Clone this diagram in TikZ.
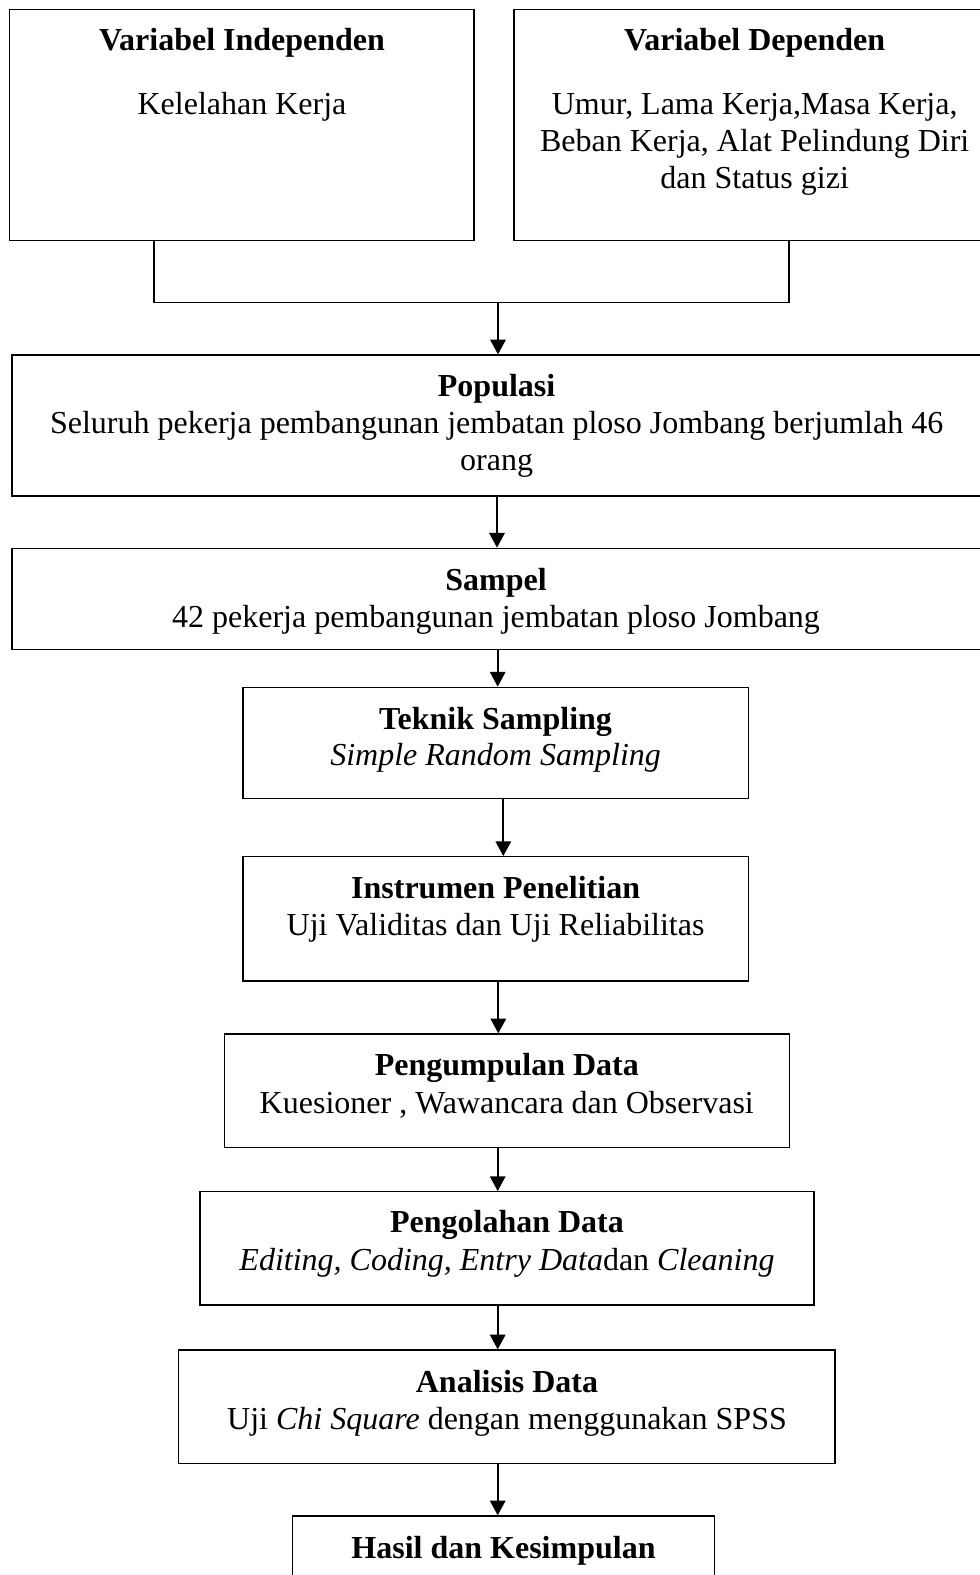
\documentclass[tikz,border=0pt]{standalone}
\usepackage{fontspec}
\setmainfont{Liberation Serif}
\usetikzlibrary{arrows.meta,fit}
\begin{document}
\begin{tikzpicture}[x=0.75pt,y=-0.75pt,
  box/.style={draw, line width=1pt, inner sep=0pt, rectangle},
  arr/.style={draw, line width=1.5pt, -{Triangle[width=11.5pt,length=11pt]}},
  ln/.style={draw, line width=1pt},
  ttl/.style={anchor=base, inner sep=0pt, font=\bfseries\fontsize{24}{28}\selectfont},
  txt/.style={anchor=base, inner sep=0pt, font=\fontsize{24}{28}\selectfont}]
\useasboundingbox (0,0) rectangle (980,1575);

% boxes
\node[box, fit={(9.4,9.3) (474,240.7)}] (indep) {};
\node[box, fit={(514,9.3) (995,240.7)}] (dep) {};
\node[box, fit={(12,355) (982,496)}] (pop) {};
\node[box, fit={(12,548.3) (982,649.3)}] (samp) {};
\node[box, fit={(243,687.3) (748.3,798.3)}] (tek) {};
\node[box, fit={(243,856.7) (748.3,981)}] (ins) {};
\node[box, fit={(224.3,1034) (789.3,1147.3)}] (peng) {};
\node[box, fit={(200,1191.7) (814,1305)}] (olah) {};
\node[box, fit={(178.3,1350) (835,1463.3)}] (anal) {};
\node[box, fit={(292.7,1516) (714.3,1620)}] (hasil) {};

% texts
\node[ttl] (t1a) at (242,50) {Variabel Independen};
\node[txt] (t1b) at (242,114) {Kelelahan Kerja};
\node[ttl] (t2a) at (754.7,50) {Variabel Dependen};
\node[txt] (t2b) at (754.7,114.5) {Umur, Lama Kerja,Masa Kerja,};
\node[txt] (t2c) at (754.7,151.7) {Beban Kerja, Alat Pelindung Diri};
\node[txt] (t2d) at (754.7,188.9) {dan Status gizi};
\node[ttl] (t3a) at (496.6,396.7) {Populasi};
\node[txt] (t3b) at (496.6,433.7) {Seluruh pekerja pembangunan jembatan ploso Jombang berjumlah 46};
\node[txt] (t3c) at (496.6,470.7) {orang};
\node[ttl] (t4a) at (496,590) {Sampel};
\node[txt] (t4b) at (496,627) {42 pekerja pembangunan jembatan ploso Jombang};
\node[ttl] (t5a) at (495.6,729) {Teknik Sampling};
\node[txt] (t5b) at (495.6,765) {\itshape Simple Random Sampling};
\node[ttl] (t6a) at (495.6,898) {Instrumen Penelitian};
\node[txt] (t6b) at (495.6,935) {Uji Validitas dan Uji Reliabilitas};
\node[ttl] (t7a) at (506.8,1075.5) {Pengumpulan Data};
\node[txt] (t7b) at (506.8,1113) {Kuesioner , Wawancara dan Observasi};
\node[ttl] (t8a) at (507,1232.7) {Pengolahan Data};
\node[txt] (t8b) at (507,1270.5) {\textit{Editing, Coding, Entry Data}dan \textit{Cleaning}};
\node[ttl] (t9a) at (507,1392.7) {Analisis Data};
\node[txt] (t9b) at (507,1429.5) {Uji \textit{Chi Square} dengan menggunakan SPSS};
\node[ttl] (t10a) at (503.5,1558.3) {Hasil dan Kesimpulan};

% connectors
\coordinate (jl) at (154,302.7);
\coordinate (jr) at (789,302.7);
\coordinate (jc) at (498,302.7);
\draw[ln] (indep.south -| jl) -- (jl) -- (jr) -- (dep.south -| jr);
\draw[arr] (jc) -- (pop.north -| jc);

\coordinate (a1) at (497,0);
\coordinate (a2) at (497.7,0);
\coordinate (a3) at (503.3,0);
\coordinate (a4) at (498.3,0);
\draw[arr] (pop.south -| a1) -- (samp.north -| a1);
\draw[arr] (samp.south -| a2) -- (tek.north -| a2);
\draw[arr] (tek.south -| a3) -- (ins.north -| a3);
\draw[arr] (ins.south -| a4) -- (peng.north -| a4);
\draw[arr] (peng.south -| a2) -- (olah.north -| a2);
\draw[arr] (olah.south -| a2) -- (anal.north -| a2);
\draw[arr] (anal.south -| a2) -- (hasil.north -| a2);
\end{tikzpicture}
\end{document}
